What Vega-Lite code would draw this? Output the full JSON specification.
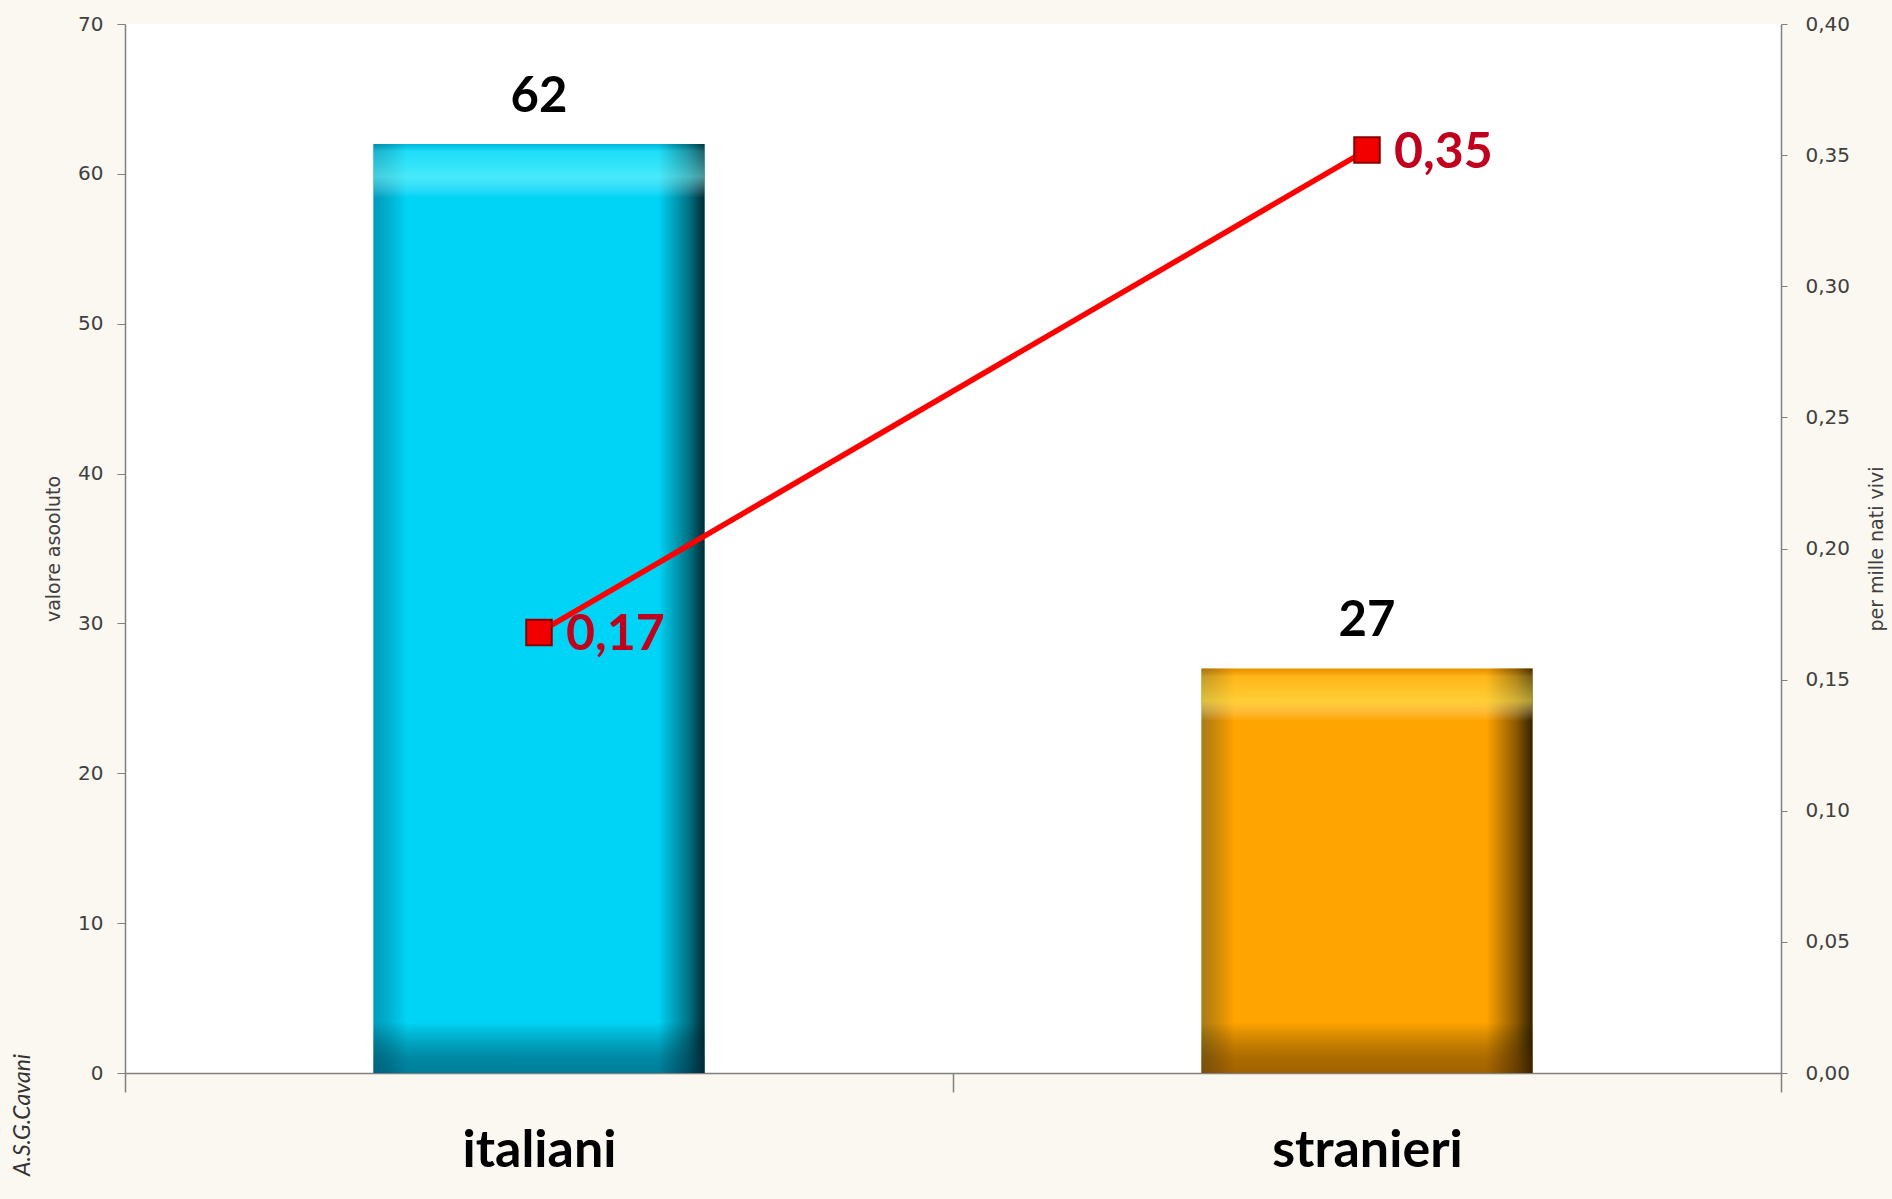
{
  "$schema": "https://vega.github.io/schema/vega-lite/v6.json",
  "width": 1656,
  "height": 1049,
  "autosize": {"type": "none"},
  "padding": {"left": 125, "top": 24, "right": 111, "bottom": 126},
  "background": "#fbf7f1",
  "title": {
    "text": "A.S.G.Cavani",
    "orient": "left",
    "anchor": "start",
    "frame": "bounds",
    "font": "Lato",
    "fontSize": 23,
    "fontStyle": "italic",
    "fontWeight": "normal",
    "color": "#333333",
    "offset": 10
  },
  "config": {
    "locale": {"number": {"decimal": ",", "thousands": ".", "grouping": [3], "currency": ["€", ""]}},
    "view": {"fill": "white", "stroke": null}
  },
  "data": {
    "values": [
      {"gruppo": "italiani", "valore": 62, "tasso": 0.168},
      {"gruppo": "stranieri", "valore": 27, "tasso": 0.352}
    ]
  },
  "encoding": {
    "x": {
      "field": "gruppo",
      "type": "nominal",
      "sort": null,
      "scale": {"paddingInner": 0, "paddingOuter": 0},
      "axis": {
        "title": null,
        "labelAngle": 0,
        "labelFont": "Lato",
        "labelFontSize": 52,
        "labelFontWeight": "bold",
        "labelColor": "black",
        "labelPadding": 33,
        "labelLimit": 0,
        "tickBand": "extent",
        "tickSize": 19,
        "tickWidth": 1.5,
        "tickColor": "#808080",
        "domainColor": "#808080",
        "domainWidth": 1.5
      }
    }
  },
  "layer": [
    {
      "encoding": {
        "y": {
          "field": "valore",
          "type": "quantitative",
          "scale": {"domain": [0, 70]},
          "axis": {
            "title": "valore asooluto",
            "values": [0, 10, 20, 30, 40, 50, 60, 70],
            "grid": false,
            "labelFont": "DejaVu Sans",
            "labelFontSize": 20,
            "labelColor": "#404040",
            "labelPadding": 14,
            "tickSize": 8,
            "tickColor": "#808080",
            "domainColor": "#808080",
            "domainWidth": 1.5,
            "titleFont": "DejaVu Sans",
            "titleFontSize": 19,
            "titleFontWeight": "normal",
            "titleColor": "#404040",
            "titlePadding": 14
          }
        }
      },
      "layer": [
        {
          "mark": {"type": "bar", "width": {"band": 0.4}},
          "encoding": {
            "color": {
              "field": "gruppo",
              "type": "nominal",
              "sort": null,
              "scale": {"range": ["#00d4f6", "#ffa400"]},
              "legend": null
            }
          }
        },
        {
          "mark": {
            "type": "bar",
            "width": {"band": 0.4},
            "fill": {
              "gradient": "linear",
              "x1": 0, "y1": 0, "x2": 1, "y2": 0,
              "stops": [
                {"offset": 0, "color": "rgba(0,50,80,0.35)"},
                {"offset": 0.1, "color": "rgba(0,0,0,0)"},
                {"offset": 0.86, "color": "rgba(0,0,0,0)"},
                {"offset": 0.95, "color": "rgba(0,0,0,0.45)"},
                {"offset": 1, "color": "rgba(0,0,0,0.8)"}
              ]
            }
          }
        },
        {
          "transform": [{"filter": "datum.gruppo == 'italiani'"}],
          "mark": {
            "type": "bar",
            "width": {"band": 0.4},
            "fill": {
              "gradient": "linear",
              "x1": 0, "y1": 0, "x2": 0, "y2": 1,
              "stops": [
                {"offset": 0, "color": "rgba(0,80,110,0.2)"},
                {"offset": 0.008, "color": "rgba(120,250,255,0.25)"},
                {"offset": 0.035, "color": "rgba(140,255,255,0.5)"},
                {"offset": 0.058, "color": "rgba(255,255,255,0)"},
                {"offset": 0.945, "color": "rgba(0,0,0,0)"},
                {"offset": 0.985, "color": "rgba(0,40,60,0.45)"},
                {"offset": 1, "color": "rgba(0,40,60,0.5)"}
              ]
            }
          }
        },
        {
          "transform": [{"filter": "datum.gruppo == 'stranieri'"}],
          "mark": {
            "type": "bar",
            "width": {"band": 0.4},
            "fill": {
              "gradient": "linear",
              "x1": 0, "y1": 0, "x2": 0, "y2": 1,
              "stops": [
                {"offset": 0, "color": "rgba(150,80,0,0.2)"},
                {"offset": 0.02, "color": "rgba(255,225,80,0.3)"},
                {"offset": 0.08, "color": "rgba(255,235,90,0.6)"},
                {"offset": 0.13, "color": "rgba(255,255,255,0)"},
                {"offset": 0.875, "color": "rgba(0,0,0,0)"},
                {"offset": 0.965, "color": "rgba(70,35,0,0.45)"},
                {"offset": 1, "color": "rgba(70,35,0,0.5)"}
              ]
            }
          }
        },
        {
          "mark": {
            "type": "text",
            "baseline": "alphabetic",
            "dy": -32,
            "font": "Lato",
            "fontSize": 49,
            "fontWeight": "bold",
            "color": "black"
          },
          "encoding": {"text": {"field": "valore", "type": "quantitative"}}
        }
      ]
    },
    {
      "encoding": {
        "y": {
          "field": "tasso",
          "type": "quantitative",
          "scale": {"domain": [0, 0.4]},
          "axis": {
            "orient": "right",
            "title": "per mille nati vivi",
            "values": [0, 0.05, 0.1, 0.15, 0.2, 0.25, 0.3, 0.35, 0.4],
            "format": ".2f",
            "grid": false,
            "labelFont": "DejaVu Sans",
            "labelFontSize": 20,
            "labelColor": "#404040",
            "labelPadding": 18,
            "tickSize": 6,
            "tickColor": "#808080",
            "domainColor": "#808080",
            "domainWidth": 1.5,
            "titleFont": "DejaVu Sans",
            "titleFontSize": 19,
            "titleFontWeight": "normal",
            "titleColor": "#404040",
            "titleAngle": 270,
            "titleBaseline": "top",
            "titlePadding": 18
          }
        }
      },
      "layer": [
        {
          "mark": {"type": "line", "color": "#ff0000", "strokeWidth": 5.5}
        },
        {
          "mark": {
            "type": "point",
            "shape": "square",
            "filled": true,
            "size": 650,
            "color": "#f20000",
            "stroke": "#8a0000",
            "strokeWidth": 2,
            "opacity": 1
          }
        },
        {
          "mark": {
            "type": "text",
            "align": "left",
            "baseline": "middle",
            "dx": 27,
            "dy": 3,
            "font": "Lato",
            "fontSize": 50,
            "fontWeight": "bold",
            "color": "#c0001c"
          },
          "encoding": {"text": {"field": "tasso", "type": "quantitative", "format": ".2f"}}
        }
      ]
    }
  ],
  "resolve": {"scale": {"y": "independent", "color": "independent"}}
}
